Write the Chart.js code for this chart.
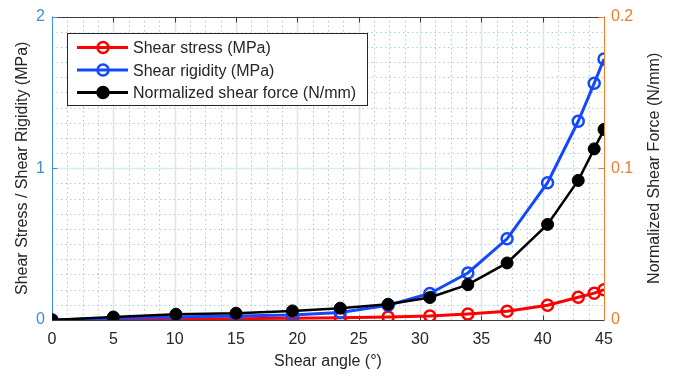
<!DOCTYPE html>
<html>
<head>
<meta charset="utf-8">
<script src="https://cdn.jsdelivr.net/npm/chart.js@4.4.1/dist/chart.umd.min.js"></script>
<style>
  html, body { margin: 0; padding: 0; background: #ffffff; }
  #wrap { width: 681px; height: 376px; }
</style>
</head>
<body>
<div id="wrap"><canvas id="c" width="681" height="376"></canvas></div>
<script>
// Shear angle (degrees) of each measurement
const shearAngle = [0, 5, 10.1, 15, 19.6, 23.5, 27.4, 30.8, 33.9, 37.1, 40.4, 42.9, 44.2, 45];
// Left axis series (MPa)
const shearStress   = [0, 0.006, 0.007, 0.009, 0.012, 0.015, 0.02, 0.026, 0.039, 0.058, 0.097, 0.15, 0.177, 0.2];
const shearRigidity = [0, 0.012, 0.019, 0.026, 0.033, 0.05, 0.097, 0.175, 0.31, 0.535, 0.905, 1.31, 1.56, 1.72];
// Right axis series (N/mm)
const normShearForce = [0, 0.002, 0.0038, 0.0045, 0.006, 0.0078, 0.0104, 0.0148, 0.0233, 0.0376, 0.063, 0.092, 0.1128, 0.1256];

const seriesNames = ['Shear stress (MPa)', 'Shear rigidity (MPa)', 'Normalized shear force (N/mm)'];
const xTitle = 'Shear angle (\u00b0)';
const yLeftTitle = 'Shear Stress / Shear Rigidity (MPa)';
const yRightTitle = 'Normalized Shear Force (N/mm)';

const RED = '#ff0000', BLUE = '#1448ff', BLACK = '#000000';
const LEFT_AXIS = '#3d8fd9', RIGHT_AXIS = '#f27b2b', TEXT = '#262626';
const FONT = 'Liberation Sans, Arial, Helvetica, sans-serif';
const FS = 16;

const pts = (ys) => shearAngle.map((a, i) => ({ x: a, y: ys[i] }));

function line(ctx, x1, y1, x2, y2) {
  ctx.beginPath(); ctx.moveTo(x1, y1); ctx.lineTo(x2, y2); ctx.stroke();
}

// Grid, axis frame, right-hand axis title and the boxed legend
const framePlugin = {
  id: 'frame',
  beforeDatasetsDraw(chart) {
    const { ctx, chartArea: a, scales: { x, y, y1 } } = chart;
    ctx.save();
    ctx.lineWidth = 1;
    // minor grid
    ctx.setLineDash([1.5, 3]);
    ctx.strokeStyle = '#c2c2c2';
    for (let v = 1.25; v < 45; v += 1.25) {
      if (Math.abs(v % 5) < 1e-9) continue;
      const px = Math.round(x.getPixelForValue(v)) + 0.5;
      line(ctx, px, a.top, px, a.bottom);
    }
    ctx.strokeStyle = '#a3d2ee';
    for (let i = 1; i < 20; i++) {
      if (i % 10 === 0) continue;
      const py = Math.round(y.getPixelForValue(i / 10)) + 0.5;
      line(ctx, a.left, py, a.right, py);
    }
    // major grid
    ctx.setLineDash([]);
    ctx.strokeStyle = '#e3e3e3';
    ctx.lineWidth = 1.5;
    for (let v = 5; v < 45; v += 5) {
      const px = Math.round(x.getPixelForValue(v)) + 0.5;
      line(ctx, px, a.top, px, a.bottom);
    }
    ctx.strokeStyle = '#d4eaf7';
    const p1 = Math.round(y.getPixelForValue(1)) + 0.5;
    line(ctx, a.left, p1, a.right, p1);

    // frame
    ctx.lineWidth = 1;
    ctx.strokeStyle = '#3c3c3c';
    const top = Math.round(a.top) + 0.5, bot = Math.round(a.bottom) + 0.5;
    line(ctx, a.left, top, a.right, top);
    line(ctx, a.left, bot, a.right, bot);
    for (let v = 0; v <= 45; v += 5) {
      const px = Math.round(x.getPixelForValue(v)) + 0.5;
      line(ctx, px, top, px, top + 5);
      line(ctx, px, bot, px, bot - 5);
    }
    ctx.strokeStyle = LEFT_AXIS;
    const lx = Math.round(a.left) + 0.5;
    line(ctx, lx, a.top, lx, a.bottom);
    [1, 2].forEach(v => { const py = Math.round(y.getPixelForValue(v)) + 0.5; line(ctx, lx, py, lx + 5, py); });
    ctx.strokeStyle = RIGHT_AXIS;
    const rx = Math.round(a.right) + 0.5;
    line(ctx, rx, a.top, rx, a.bottom);
    [0.1, 0.2].forEach(v => { const py = Math.round(y1.getPixelForValue(v)) + 0.5; line(ctx, rx, py, rx - 6, py); });

    // right axis title, reading bottom to top
    ctx.translate(y1.right - FS * 0.6, (a.top + a.bottom) / 2);
    ctx.rotate(-Math.PI / 2);
    ctx.font = FS + 'px ' + FONT;
    ctx.fillStyle = TEXT;
    ctx.textAlign = 'center';
    ctx.textBaseline = 'middle';
    ctx.fillText(yRightTitle, 0, 0);
    ctx.restore();
  },
  afterDatasetsDraw(chart) {
    const { ctx, chartArea: a } = chart;
    const bx = a.left + 15, by = a.top + 16, bw = 300, bh = 72;
    ctx.save();
    ctx.fillStyle = '#ffffff';
    ctx.fillRect(bx, by, bw, bh);
    ctx.strokeStyle = TEXT;
    ctx.lineWidth = 1;
    ctx.strokeRect(Math.round(bx) + 0.5, Math.round(by) + 0.5, bw, bh);
    const styles = [
      { c: RED, fill: false },
      { c: BLUE, fill: false },
      { c: BLACK, fill: true }
    ];
    ctx.font = FS + 'px ' + FONT;
    ctx.textBaseline = 'middle';
    styles.forEach((s, i) => {
      const cy = by + 15 + i * 22.5;
      ctx.strokeStyle = s.c;
      ctx.lineWidth = 3;
      line(ctx, bx + 10, cy, bx + 61, cy);
      ctx.beginPath();
      ctx.arc(bx + 36, cy, 5.5, 0, Math.PI * 2);
      if (s.fill) { ctx.fillStyle = s.c; ctx.fill(); }
      ctx.lineWidth = 2.5;
      ctx.stroke();
      ctx.fillStyle = TEXT;
      ctx.fillText(seriesNames[i], bx + 66, cy + 1);
    });
    ctx.restore();
  }
};

new Chart(document.getElementById('c'), {
  type: 'line',
  data: {
    datasets: [
      {
        label: seriesNames[0], data: pts(shearStress), yAxisID: 'y', order: 2,
        borderColor: RED, borderWidth: 3, pointRadius: 5.5, pointBorderWidth: 2.5,
        pointBackgroundColor: 'rgba(255,255,255,0)', pointBorderColor: RED
      },
      {
        label: seriesNames[1], data: pts(shearRigidity), yAxisID: 'y', order: 1,
        borderColor: BLUE, borderWidth: 3, pointRadius: 5.5, pointBorderWidth: 2.5,
        pointBackgroundColor: 'rgba(255,255,255,0)', pointBorderColor: BLUE
      },
      {
        label: seriesNames[2], data: pts(normShearForce), yAxisID: 'y1', order: 0,
        borderColor: BLACK, borderWidth: 2.5, pointRadius: 6, pointBorderWidth: 1,
        pointBackgroundColor: BLACK, pointBorderColor: BLACK
      }
    ]
  },
  options: {
    responsive: false,
    animation: false,
    devicePixelRatio: 1,
    layout: { padding: { left: 13, right: 17, top: 11, bottom: 5 } },
    plugins: { legend: { display: false }, tooltip: { enabled: false } },
    elements: { line: { tension: 0 } },
    scales: {
      x: {
        type: 'linear', min: 0, max: 45,
        ticks: { stepSize: 5, color: TEXT, font: { family: FONT, size: FS }, padding: 10, maxRotation: 0, autoSkip: false },
        grid: { display: false, drawTicks: false },
        border: { display: false },
        title: { display: true, text: xTitle, color: TEXT, font: { family: FONT, size: FS }, padding: 0 },
        afterFit: (s) => { s.height = 51; }
      },
      y: {
        position: 'left', min: 0, max: 2,
        ticks: { stepSize: 1, color: LEFT_AXIS, font: { family: FONT, size: FS }, padding: 7 },
        grid: { display: false, drawTicks: false },
        border: { display: false },
        title: { display: true, text: yLeftTitle, color: TEXT, font: { family: FONT, size: FS }, padding: 0 },
        afterFit: (s) => { s.width = 39; }
      },
      y1: {
        position: 'right', min: 0, max: 0.2,
        ticks: { stepSize: 0.1, color: RIGHT_AXIS, font: { family: FONT, size: FS }, padding: 7 },
        grid: { display: false, drawTicks: false },
        border: { display: false },
        title: { display: false },
        afterFit: (s) => { s.width = 60; }
      }
    }
  },
  plugins: [framePlugin]
});
</script>
</body>
</html>
